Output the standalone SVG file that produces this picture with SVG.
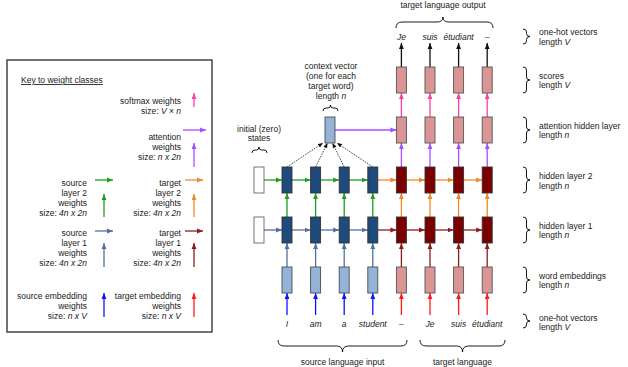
<svg xmlns="http://www.w3.org/2000/svg" width="628" height="367" viewBox="0 0 628 367">
<style>
text{font-family:"Liberation Sans",Arial,sans-serif;font-size:8.5px;fill:#1a1a1a}
.r{text-anchor:end}
.m{text-anchor:middle}
.i{font-style:italic}
.br{fill:none;stroke:#000;stroke-width:0.9}
.enc{fill:#1f4a7c;stroke:#333;stroke-width:0.9}
.dec{fill:#7a0000;stroke:#333;stroke-width:0.9}
.emb{fill:#95b3d7;stroke:#4d4d4d;stroke-width:0.9}
.pk{fill:#d99694;stroke:#555;stroke-width:0.9}
.ini{fill:#fff;stroke:#666;stroke-width:0.9}
.ln{fill:none;stroke-width:1.3}
.g{stroke:#1e9e1e;marker-end:url(#mg)}
.o{stroke:#f08a2a;marker-end:url(#mo)}
.s{stroke:#4f72a0;marker-end:url(#ms)}
.d{stroke:#8c1c1c;marker-end:url(#md)}
.b{stroke:#1010ff;marker-end:url(#mb)}
.rd{stroke:#ff1a1a;marker-end:url(#mr)}
.p{stroke:#a650ff;marker-end:url(#mp)}
.k{stroke:#ff3ea5;marker-end:url(#mk)}
.bk{stroke:#111;marker-end:url(#mbk)}
.dt{fill:none;stroke:#222;stroke-width:0.8;stroke-dasharray:1.6 1.1;marker-end:url(#mdt)}
</style>
<defs>
<marker id="mg" viewBox="0 0 6 6" refX="6" refY="3" markerWidth="6" markerHeight="6" orient="auto" markerUnits="userSpaceOnUse"><path d="M0,0.6L6,3L0,5.4z" fill="#1e9e1e"/></marker>
<marker id="mo" viewBox="0 0 6 6" refX="6" refY="3" markerWidth="6" markerHeight="6" orient="auto" markerUnits="userSpaceOnUse"><path d="M0,0.6L6,3L0,5.4z" fill="#f08a2a"/></marker>
<marker id="ms" viewBox="0 0 6 6" refX="6" refY="3" markerWidth="6" markerHeight="6" orient="auto" markerUnits="userSpaceOnUse"><path d="M0,0.6L6,3L0,5.4z" fill="#4f72a0"/></marker>
<marker id="md" viewBox="0 0 6 6" refX="6" refY="3" markerWidth="6" markerHeight="6" orient="auto" markerUnits="userSpaceOnUse"><path d="M0,0.6L6,3L0,5.4z" fill="#8c1c1c"/></marker>
<marker id="mb" viewBox="0 0 6 6" refX="6" refY="3" markerWidth="6" markerHeight="6" orient="auto" markerUnits="userSpaceOnUse"><path d="M0,0.6L6,3L0,5.4z" fill="#1010ff"/></marker>
<marker id="mr" viewBox="0 0 6 6" refX="6" refY="3" markerWidth="6" markerHeight="6" orient="auto" markerUnits="userSpaceOnUse"><path d="M0,0.6L6,3L0,5.4z" fill="#ff1a1a"/></marker>
<marker id="mp" viewBox="0 0 6 6" refX="6" refY="3" markerWidth="6" markerHeight="6" orient="auto" markerUnits="userSpaceOnUse"><path d="M0,0.6L6,3L0,5.4z" fill="#a650ff"/></marker>
<marker id="mk" viewBox="0 0 6 6" refX="6" refY="3" markerWidth="6" markerHeight="6" orient="auto" markerUnits="userSpaceOnUse"><path d="M0,0.6L6,3L0,5.4z" fill="#ff3ea5"/></marker>
<marker id="mbk" viewBox="0 0 6 6" refX="6" refY="3" markerWidth="6" markerHeight="6" orient="auto" markerUnits="userSpaceOnUse"><path d="M0,0.6L6,3L0,5.4z" fill="#111"/></marker>
<marker id="mdt" viewBox="0 0 6 6" refX="6" refY="3" markerWidth="5" markerHeight="5" orient="auto" markerUnits="userSpaceOnUse"><path d="M0,0.6L6,3L0,5.4z" fill="#111"/></marker>
</defs>

<g id="key">
<rect x="7" y="60" width="205" height="272" fill="#fff" stroke="#444" stroke-width="1.5"/>
<text x="21" y="83" text-decoration="underline">Key to weight classes</text>
<text class="r" x="181" y="104">softmax weights</text>
<text class="r" x="181" y="114">size: <tspan class="i">V</tspan> × <tspan class="i">n</tspan></text>
<text class="r" x="181" y="140">attention</text>
<text class="r" x="181" y="150">weights</text>
<text class="r" x="181" y="160">size: <tspan class="i">n x 2n</tspan></text>
<text class="r" x="87" y="186">source</text>
<text class="r" x="87" y="196">layer 2</text>
<text class="r" x="87" y="206">weights</text>
<text class="r" x="87" y="216">size: <tspan class="i">4n x 2n</tspan></text>
<text class="r" x="181" y="186">target</text>
<text class="r" x="181" y="196">layer 2</text>
<text class="r" x="181" y="206">weights</text>
<text class="r" x="181" y="216">size: <tspan class="i">4n x 2n</tspan></text>
<text class="r" x="87" y="235.5">source</text>
<text class="r" x="87" y="245.5">layer 1</text>
<text class="r" x="87" y="255.5">weights</text>
<text class="r" x="87" y="265.5">size: <tspan class="i">4n x 2n</tspan></text>
<text class="r" x="181" y="235.5">target</text>
<text class="r" x="181" y="245.5">layer 1</text>
<text class="r" x="181" y="255.5">weights</text>
<text class="r" x="181" y="265.5">size: <tspan class="i">4n x 2n</tspan></text>
<text class="r" x="87" y="299">source embedding</text>
<text class="r" x="87" y="309">weights</text>
<text class="r" x="87" y="319">size: <tspan class="i">n x V</tspan></text>
<text class="r" x="181" y="299">target embedding</text>
<text class="r" x="181" y="309">weights</text>
<text class="r" x="181" y="319">size: <tspan class="i">n x V</tspan></text>
<path class="ln k" d="M194,107V93"/>
<path class="ln p" d="M183,130H206"/>
<path class="ln p" d="M194,167V143"/>
<path class="ln g" d="M95,180H113"/>
<path class="ln g" d="M104,217V194"/>
<path class="ln o" d="M185,180H203"/>
<path class="ln o" d="M194,217V194"/>
<path class="ln s" d="M95,231H113"/>
<path class="ln s" d="M104,267V243"/>
<path class="ln d" d="M185,231H203"/>
<path class="ln d" d="M194,267V243"/>
<path class="ln b" d="M104,317V293"/>
<path class="ln rd" d="M194,317V293"/>
</g>

<g id="connectors">
<path class="ln g" d="M264,180H282"/><path class="ln g" d="M292,180H310.6"/><path class="ln g" d="M320.6,180H339.2"/><path class="ln g" d="M349.2,180H367.8"/>
<path class="ln o" d="M377.8,180H396.4"/><path class="ln o" d="M406.4,180H425"/><path class="ln o" d="M435,180H453.6"/><path class="ln o" d="M463.6,180H482.2"/>
<path class="ln s" d="M264,230H282"/><path class="ln s" d="M292,230H310.6"/><path class="ln s" d="M320.6,230H339.2"/><path class="ln s" d="M349.2,230H367.8"/>
<path class="ln d" d="M377.8,230H396.4"/><path class="ln d" d="M406.4,230H425"/><path class="ln d" d="M435,230H453.6"/><path class="ln d" d="M463.6,230H482.2"/>
<path class="ln b" d="M287,315V293"/><path class="ln b" d="M315.6,315V293"/><path class="ln b" d="M344.2,315V293"/><path class="ln b" d="M372.8,315V293"/>
<path class="ln s" d="M287,267V243"/><path class="ln s" d="M315.6,267V243"/><path class="ln s" d="M344.2,267V243"/><path class="ln s" d="M372.8,267V243"/>
<path class="ln g" d="M287,217V193"/><path class="ln g" d="M315.6,217V193"/><path class="ln g" d="M344.2,217V193"/><path class="ln g" d="M372.8,217V193"/>
<path class="ln rd" d="M401.4,315V293"/><path class="ln rd" d="M430,315V293"/><path class="ln rd" d="M458.6,315V293"/><path class="ln rd" d="M487.2,315V293"/>
<path class="ln d" d="M401.4,267V243"/><path class="ln d" d="M430,267V243"/><path class="ln d" d="M458.6,267V243"/><path class="ln d" d="M487.2,267V243"/>
<path class="ln o" d="M401.4,217V193"/><path class="ln o" d="M430,217V193"/><path class="ln o" d="M458.6,217V193"/><path class="ln o" d="M487.2,217V193"/>
<path class="ln p" d="M401.4,167V143"/><path class="ln p" d="M430,167V143"/><path class="ln p" d="M458.6,167V143"/><path class="ln p" d="M487.2,167V143"/>
<path class="ln k" d="M401.4,117V93"/><path class="ln k" d="M430,117V93"/><path class="ln k" d="M458.6,117V93"/><path class="ln k" d="M487.2,117V93"/>
<path class="ln bk" d="M401.4,67V43"/><path class="ln bk" d="M430,67V43"/><path class="ln bk" d="M458.6,67V43"/><path class="ln bk" d="M487.2,67V43"/>
<path class="ln p" d="M335,130H396.4"/>
<path class="dt" d="M287,167L323,143"/><path class="dt" d="M315.6,167L327.5,143"/><path class="dt" d="M344.2,167L332.5,143"/><path class="dt" d="M372.8,167L337,143"/>
</g>

<g id="initial-states">
<rect class="ini" x="254" y="167" width="10" height="26"/>
<rect class="ini" x="254" y="217" width="10" height="26"/>
<text class="m" x="259" y="132">initial (zero)</text>
<text class="m" x="259" y="141">states</text>
<path class="br" d="M252,153Q252,150 255,150L256.5,150Q259,150 259,147Q259,150 261.5,150L264,150Q267,150 267,153"/>
</g>

<g id="context-vector">
<rect class="emb" x="325" y="117" width="10" height="26"/>
<text class="m" x="331" y="69">context vector</text>
<text class="m" x="331" y="79">(one for each</text>
<text class="m" x="331" y="89">target word)</text>
<text class="m" x="331" y="99">length <tspan class="i">n</tspan></text>
<path class="br" d="M323,111Q323,108 326,108L328,108Q330.5,108 330.5,105Q330.5,108 333,108L335,108Q338,108 338,111"/>
</g>

<g id="encoder">
<rect class="enc" x="282" y="167" width="10" height="26"/><rect class="enc" x="310.6" y="167" width="10" height="26"/><rect class="enc" x="339.2" y="167" width="10" height="26"/><rect class="enc" x="367.8" y="167" width="10" height="26"/>
<rect class="enc" x="282" y="217" width="10" height="26"/><rect class="enc" x="310.6" y="217" width="10" height="26"/><rect class="enc" x="339.2" y="217" width="10" height="26"/><rect class="enc" x="367.8" y="217" width="10" height="26"/>
<rect class="emb" x="282" y="267" width="10" height="26"/><rect class="emb" x="310.6" y="267" width="10" height="26"/><rect class="emb" x="339.2" y="267" width="10" height="26"/><rect class="emb" x="367.8" y="267" width="10" height="26"/>
</g>

<g id="decoder">
<rect class="dec" x="396.4" y="167" width="10" height="26"/><rect class="dec" x="425" y="167" width="10" height="26"/><rect class="dec" x="453.6" y="167" width="10" height="26"/><rect class="dec" x="482.2" y="167" width="10" height="26"/>
<rect class="dec" x="396.4" y="217" width="10" height="26"/><rect class="dec" x="425" y="217" width="10" height="26"/><rect class="dec" x="453.6" y="217" width="10" height="26"/><rect class="dec" x="482.2" y="217" width="10" height="26"/>
<rect class="pk" x="396.4" y="267" width="10" height="26"/><rect class="pk" x="425" y="267" width="10" height="26"/><rect class="pk" x="453.6" y="267" width="10" height="26"/><rect class="pk" x="482.2" y="267" width="10" height="26"/>
<rect class="pk" x="396.4" y="117" width="10" height="26"/><rect class="pk" x="425" y="117" width="10" height="26"/><rect class="pk" x="453.6" y="117" width="10" height="26"/><rect class="pk" x="482.2" y="117" width="10" height="26"/>
<rect class="pk" x="396.4" y="67" width="10" height="26"/><rect class="pk" x="425" y="67" width="10" height="26"/><rect class="pk" x="453.6" y="67" width="10" height="26"/><rect class="pk" x="482.2" y="67" width="10" height="26"/>
</g>

<g id="words">
<text class="m i" x="287" y="327">I</text>
<text class="m i" x="315.6" y="327">am</text>
<text class="m i" x="344.2" y="327">a</text>
<text class="m i" x="372.8" y="327">student</text>
<text class="m i" x="401.4" y="327">–</text>
<text class="m i" x="430" y="327">Je</text>
<text class="m i" x="458.6" y="327">suis</text>
<text class="m i" x="487.2" y="327">étudiant</text>
<text class="m i" x="401.4" y="40">Je</text>
<text class="m i" x="430" y="40">suis</text>
<text class="m i" x="458.6" y="40">étudiant</text>
<text class="m i" x="487.2" y="40">–</text>
<text class="m" x="443" y="8">target language output</text>
<path class="br" d="M396,28Q396,22 402,22L437,22Q443,22 443,17Q443,22 449,22L487,22Q493,22 493,28"/>
<path class="br" d="M278,340Q278,346 284,346L336.5,346Q342.5,346 342.5,352Q342.5,346 348.5,346L401,346Q407,346 407,340"/>
<text class="m" x="342.5" y="365">source language input</text>
<path class="br" d="M420,340Q420,346 426,346L456.5,346Q462.5,346 462.5,352Q462.5,346 468.5,346L499,346Q505,346 505,340"/>
<text class="m" x="462.5" y="365">target language</text>
</g>

<g id="row-labels">
<path class="br" d="M523,29Q526.5,29 526.5,32L526.5,33.5Q526.5,36.5 530,36.5Q526.5,36.5 526.5,39.5L526.5,41Q526.5,44 523,44"/>
<text x="539" y="35">one-hot vectors</text><text x="539" y="44.5">length <tspan class="i">V</tspan></text>
<path class="br" d="M523,67Q526.5,67 526.5,70L526.5,77Q526.5,80 530,80Q526.5,80 526.5,83L526.5,90Q526.5,93 523,93"/>
<text x="539" y="78.5">scores</text><text x="539" y="88">length <tspan class="i">V</tspan></text>
<path class="br" d="M523,117Q526.5,117 526.5,120L526.5,127Q526.5,130 530,130Q526.5,130 526.5,133L526.5,140Q526.5,143 523,143"/>
<text x="539" y="128.5">attention hidden layer</text><text x="539" y="138">length <tspan class="i">n</tspan></text>
<path class="br" d="M523,167Q526.5,167 526.5,170L526.5,177Q526.5,180 530,180Q526.5,180 526.5,183L526.5,190Q526.5,193 523,193"/>
<text x="539" y="179">hidden layer 2</text><text x="539" y="188.5">length <tspan class="i">n</tspan></text>
<path class="br" d="M523,217Q526.5,217 526.5,220L526.5,227Q526.5,230 530,230Q526.5,230 526.5,233L526.5,240Q526.5,243 523,243"/>
<text x="539" y="228.5">hidden layer 1</text><text x="539" y="238">length <tspan class="i">n</tspan></text>
<path class="br" d="M523,267Q526.5,267 526.5,270L526.5,277Q526.5,280 530,280Q526.5,280 526.5,283L526.5,290Q526.5,293 523,293"/>
<text x="539" y="278.5">word embeddings</text><text x="539" y="288">length <tspan class="i">n</tspan></text>
<path class="br" d="M523,314Q526.5,314 526.5,317L526.5,318Q526.5,321 530,321Q526.5,321 526.5,324L526.5,325Q526.5,328 523,328"/>
<text x="539" y="321">one-hot vectors</text><text x="539" y="330">length <tspan class="i">V</tspan></text>
</g>
</svg>
